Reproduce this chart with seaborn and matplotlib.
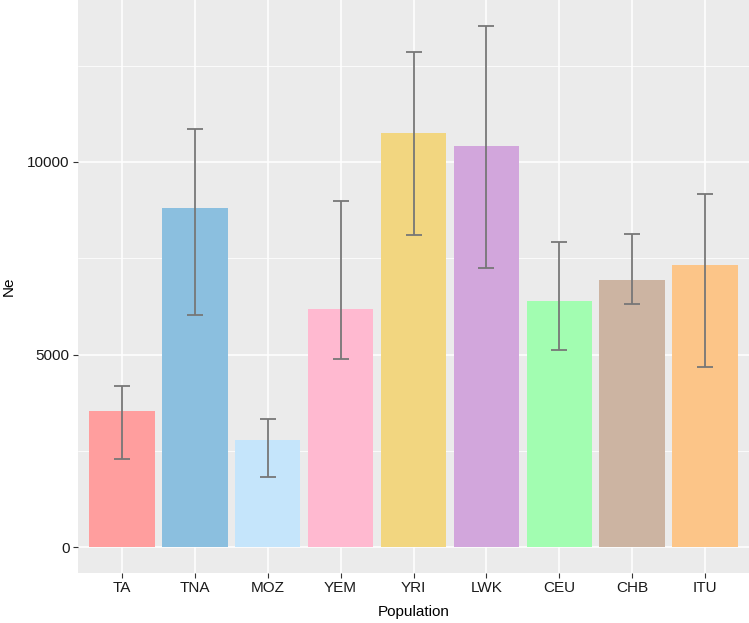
import numpy as np
import pandas as pd
import matplotlib
matplotlib.use("Agg")
import matplotlib.pyplot as plt
import seaborn as sns
from matplotlib.ticker import MultipleLocator


# Values
populations = ["TA", "TNA", "MOZ", "YEM", "YRI", "LWK", "CEU", "CHB", "ITU"]
ne = [3537, 8797, 2784, 6176, 10743, 10414, 6392, 6936, 7334]
ne_low = [2299, 6028, 1832, 4879, 8104, 7256, 5120, 6321, 4679]
ne_high = [4186, 10863, 3337, 8987, 12845, 13528, 7930, 8122, 9176]
colors = ["#FF9E9E", "#8BBFDF", "#C5E5FB", "#FFB9D0", "#F2D680",
          "#D2A6DC", "#A2FDB1", "#CCB4A2", "#FCC588"]


def makeFrame():
    df = pd.DataFrame({"Population": populations, "Ne": ne,
                       "low": ne_low, "high": ne_high})
    return df


def drawChart(df):
    sns.set_theme(style="darkgrid")
    plt.rcParams["font.family"] = ["Liberation Sans", "DejaVu Sans"]

    fig = plt.figure(figsize=(7.49, 6.23), dpi=100)
    ax = fig.add_axes([78 / 749, 1 - 573 / 623, 1 - 78 / 749, 573 / 623])
    ax.set_facecolor("#EBEBEB")

    sns.barplot(data=df, x="Population", y="Ne", hue="Population",
                palette=colors, width=0.9, saturation=1, legend=False,
                errorbar=None, linewidth=0, edgecolor="none", ax=ax, zorder=2)

    # error bars from the low / high columns
    xs = np.arange(len(df))
    yerr = [df["Ne"] - df["low"], df["high"] - df["Ne"]]
    ax.errorbar(xs, df["Ne"], yerr=yerr, fmt="none", ecolor="#777777",
                elinewidth=1.3, capsize=5.5, capthick=1.3, zorder=3)

    ax.set_xlim(-0.6, len(df) - 0.4)
    ax.set_ylim(-667, 14200)
    ax.yaxis.set_major_locator(MultipleLocator(5000))
    ax.yaxis.set_minor_locator(MultipleLocator(2500))
    ax.grid(which="major", color="white", linewidth=1.1, zorder=0)
    ax.grid(which="minor", axis="y", color="white", linewidth=0.55, zorder=0)
    ax.set_axisbelow(True)
    for s in ax.spines.values():
        s.set_visible(False)

    ax.tick_params(axis="both", which="major", bottom=True, left=True,
                   length=3.5, width=0.8, color="#333333", labelsize=11,
                   labelcolor="#1A1A1A", pad=2.5)
    ax.tick_params(axis="y", which="minor", length=0)
    ax.set_xlabel("Population", fontsize=11, color="black", labelpad=7)
    ax.set_ylabel("Ne", fontsize=11, color="black", labelpad=8)

    fig.savefig("out.png", dpi=100)


if __name__ == "__main__":
    df = makeFrame()
    drawChart(df)
